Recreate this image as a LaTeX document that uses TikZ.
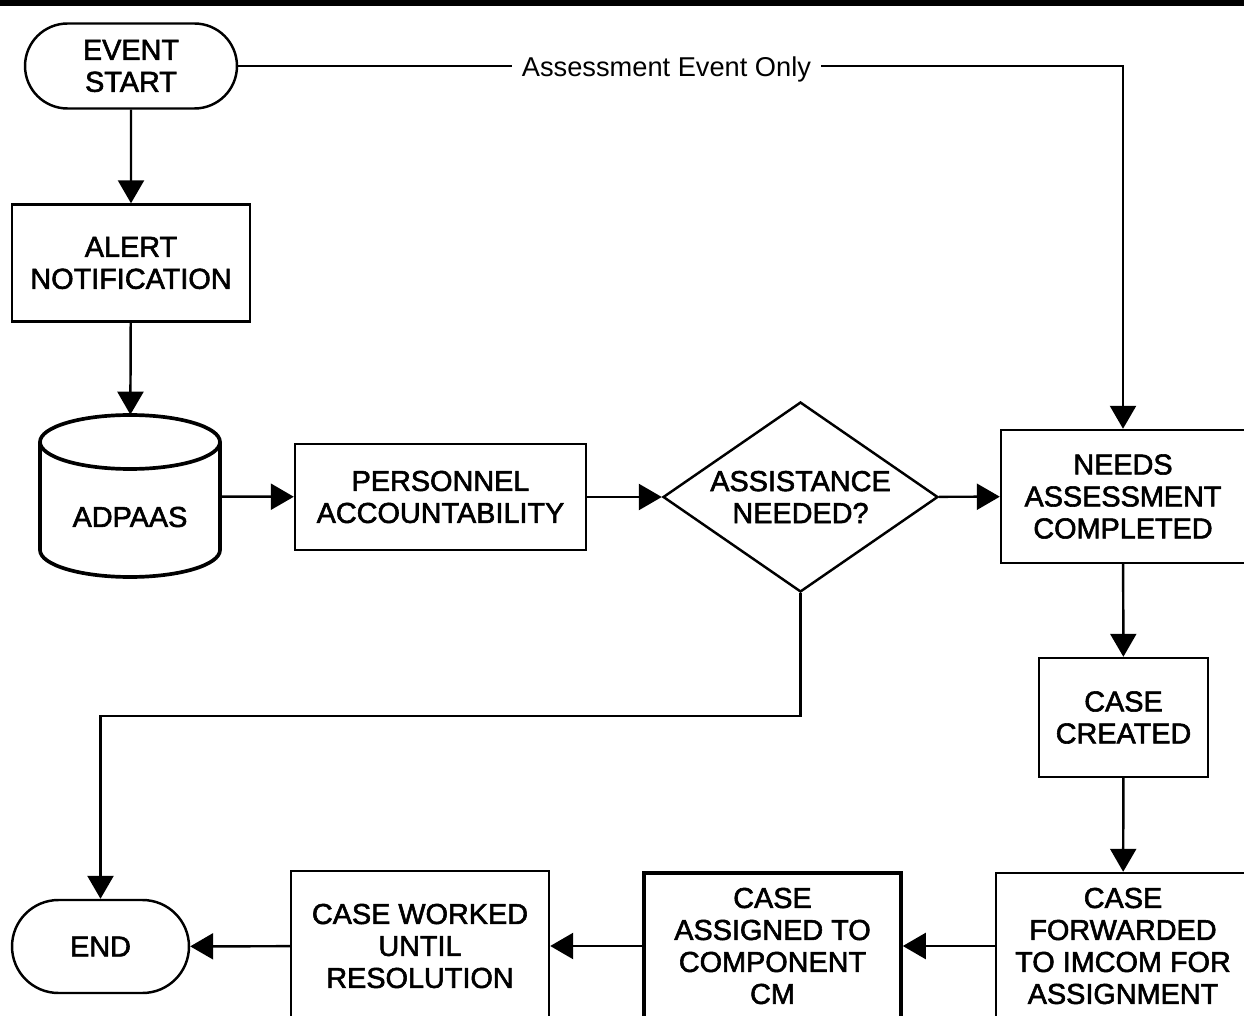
\documentclass[tikz,border=0pt]{standalone}
\usepackage{fontspec}
\setmainfont[FakeBold=2]{Liberation Sans}
\newfontfamily\labelfont{Liberation Sans}
\usetikzlibrary{arrows.meta,shapes.geometric,shapes.misc}

\begin{document}
\begin{tikzpicture}[x=0.02cm,y=-0.02cm,
  font=\fontsize{16.4}{18.2}\selectfont,
  box/.style={draw,line width=1.4pt,align=center,inner sep=0pt},
  term/.style={draw,line width=1.4pt,rounded rectangle,align=center,inner sep=0pt},
  flow/.style={-{Triangle[length=0.46cm,width=0.52cm]},line width=1.4pt},
]
  \clip (0,0) rectangle (1244,1016);
  \fill[white] (0,0) rectangle (1244,1016);
  \draw[line width=0.12cm] (0,3) -- (1244,3);

  \node[term,minimum width=4.24cm,minimum height=1.7cm] (start) at (131,66) {EVENT\\START};
  \node[box,minimum width=4.76cm,minimum height=2.34cm] (alert) at (131,263) {ALERT\\NOTIFICATION};

  \node[minimum width=3.6cm,minimum height=3.26cm,inner sep=0pt] (db) at (130,496.5) {};
  \draw[line width=2.1pt,fill=white] (40,442) -- (40,550)
    arc[start angle=180,end angle=360,x radius=1.8cm,y radius=0.54cm] -- (220,442);
  \draw[line width=2.1pt] (130,442) ellipse[x radius=1.8cm,y radius=0.54cm];
  \node (dblabel) at (130,517) {ADPAAS};

  \node[box,minimum width=5.82cm,minimum height=2.12cm] (pers) at (440.5,497) {PERSONNEL\\ACCOUNTABILITY};
  \node[box,diamond,aspect=1.447,minimum width=5.5cm,minimum height=3.8cm] (need) at (800.5,497) {ASSISTANCE\\NEEDED?};
  \node[box,minimum width=4.88cm,minimum height=2.66cm] (assess) at (1123,496.5) {NEEDS\\ASSESSMENT\\COMPLETED};
  \node[box,minimum width=3.38cm,minimum height=2.38cm] (created) at (1123.5,717.5) {CASE\\CREATED};
  \node[box,minimum width=5.08cm,minimum height=2.92cm] (fwd) at (1123,946) {CASE\\FORWARDED\\TO IMCOM FOR\\ASSIGNMENT};
  \node[box,line width=2.1pt,minimum width=5.14cm,minimum height=2.92cm] (assigned) at (772.5,946) {CASE\\ASSIGNED TO\\COMPONENT\\CM};
  \node[box,minimum width=5.16cm,minimum height=3cm] (worked) at (420,946) {CASE WORKED\\UNTIL\\RESOLUTION};
  \node[term,minimum width=3.54cm,minimum height=1.86cm] (end) at (100.5,946.5) {END};

  \coordinate (bend) at (100.5,716);

  \draw[flow] (start) -- (alert);
  \draw[flow] (alert) -- (db);
  \draw[flow] (db) -- (pers);
  \draw[flow] (pers) -- (need);
  \draw[flow] (need) -- (assess);
  \draw[flow] (start.east) -| node[pos=0.242,fill=white,inner xsep=0.2cm,inner ysep=2pt,yshift=-2pt,font=\labelfont\fontsize{15.5}{17}\selectfont] {Assessment Event Only} (assess.north);
  \draw[flow] (assess) -- (created);
  \draw[flow] (created) -- (fwd);
  \draw[flow] (fwd) -- (assigned);
  \draw[flow] (assigned) -- (worked);
  \draw[flow] (worked) -- (end);
  \draw[flow] (need.south) |- (bend) -- (end.north);
\end{tikzpicture}
\end{document}
